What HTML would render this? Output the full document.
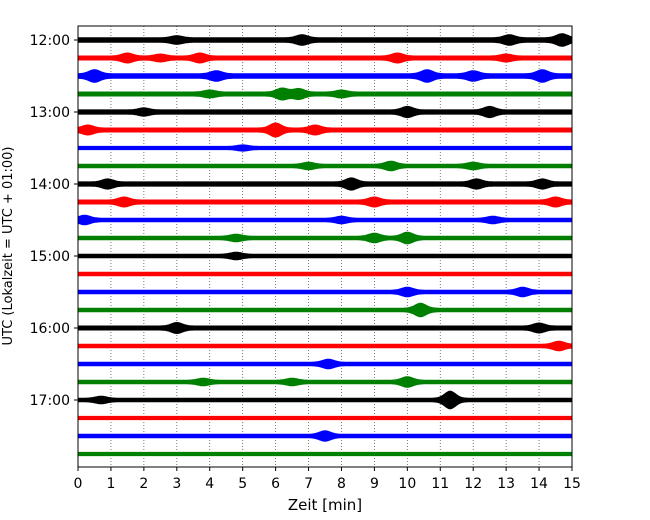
<!DOCTYPE html>
<html><head><meta charset="utf-8"><style>
html,body{margin:0;padding:0;background:#fff;width:650px;height:520px;overflow:hidden}
svg text{font-family:"DejaVu Sans","Liberation Sans",sans-serif}
</style></head><body>
<svg id="chart" width="650" height="520" viewBox="0 0 650 520" xmlns="http://www.w3.org/2000/svg">
<g id="grid"></g>
<g id="traces"></g>
<rect x="78" y="26" width="494" height="441" fill="none" stroke="#000" stroke-width="1"/>
<g id="axes"></g>
<text x="325" y="510" font-size="15" text-anchor="middle">Zeit  [min]</text>
<text transform="translate(12,246) rotate(-90)" font-size="13" text-anchor="middle">UTC (Lokalzeit = UTC + 01:00)</text>
</svg>
<script>
const xTicks = [0,1,2,3,4,5,6,7,8,9,10,11,12,13,14,15];
const hourLabels = ["12:00","13:00","14:00","15:00","16:00","17:00"];
const traceColors = ["#000","#f00","#00f","#008000"];
const baseAmp = [2.8,2.5,2.8,2.5,2.6,2.5,2.1,2.3,2.6,2.5,2.3,2.3,2.3,2.2,2.3,2.3,2.5,2.3,2.3,2.3,2.3,2.1,2.2,2.1];
const events = [
 [[13.1,3],[14.7,4],[6.8,3],[3.0,2]],
 [[1.5,3],[2.5,2],[3.7,3],[9.7,3],[13,2]],
 [[0.5,4],[4.2,3],[10.6,4],[14.1,4],[12,3]],
 [[6.2,4],[6.7,3.5],[4,2],[8,2]],
 [[10,3.5],[12.5,3.5],[2,2]],
 [[0.3,3],[6,5],[7.2,3]],
 [[5,1.5]],
 [[7,2],[9.5,3],[12,2]],
 [[8.3,4],[0.9,3],[12.1,3],[14.1,3]],
 [[1.4,3],[9,3],[14.5,3]],
 [[0.2,3],[8,2],[12.6,2]],
 [[10,4],[4.8,2],[9,3]],
 [[4.8,2]],
 [],
 [[10,3],[13.5,3]],
 [[10.4,5]],
 [[3,3.5],[14,3]],
 [[14.6,3]],
 [[7.6,3]],
 [[10,3.5],[6.5,2],[3.8,2]],
 [[11.3,7],[0.7,2]],
 [],
 [[7.5,3.5]],
 []
];
const NS="http://www.w3.org/2000/svg";
const x0=78,x1=572,xmin=0,xmax=15;
const xs=v=>x0+(v-xmin)/(xmax-xmin)*(x1-x0);
const y0=40,rowH=18;
const ys=i=>y0+i*rowH;
function el(t,a,p){const e=document.createElementNS(NS,t);for(const k in a)e.setAttribute(k,a[k]);p.appendChild(e);return e;}
const grid=document.getElementById('grid'),axes=document.getElementById('axes'),tr=document.getElementById('traces');
xTicks.forEach(v=>{
  if(v>0&&v<15){const g=el('line',{x1:xs(v),x2:xs(v),y1:26,y2:467,stroke:'#555','stroke-width':0.8,'stroke-dasharray':'1,2'},grid);
  
  }
  const t=el('line',{x1:xs(v),x2:xs(v),y1:467,y2:471,stroke:'#000'},axes);
  
  
  const l=el('text',{x:xs(v),y:488,'font-size':14,'text-anchor':'middle'},axes);l.textContent=v;
  
  
});
hourLabels.forEach((h,k)=>{
  const y=ys(k*4);
  const t=el('line',{x1:74,x2:78,y1:y,y2:y,stroke:'#000'},axes);
  
  
  const l=el('text',{x:70,y:y+5,'font-size':14,'text-anchor':'end'},axes);l.textContent=h;
  
  
});
baseAmp.forEach((b,i)=>{
  const y=ys(i);const top=[],bot=[];
  for(let s=0;s<=494;s++){
    const t=xmin+s/494*(xmax-xmin);
    let a=b;
    events[i].forEach(([c,amp])=>{a+=amp*Math.exp(-((t-c)*(t-c))/(2*0.17*0.17));});
    const px=xs(t);
    top.push(px.toFixed(1)+','+(y-a).toFixed(1));
    bot.unshift(px.toFixed(1)+','+(y+a).toFixed(1));
  }
  const p=el('polygon',{points:top.concat(bot).join(' '),fill:traceColors[i%4]},tr);
  
  
});
</script>
</body></html>
